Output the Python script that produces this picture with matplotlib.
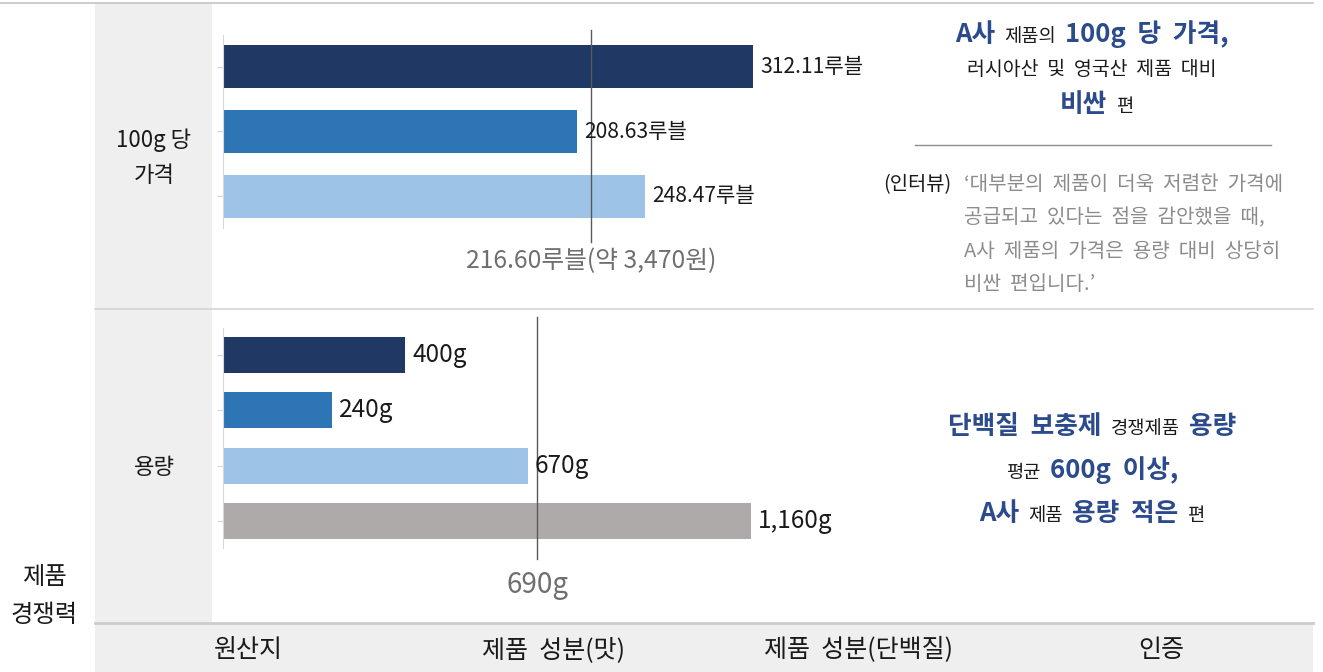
import matplotlib
matplotlib.use("Agg")
import matplotlib.pyplot as plt
from matplotlib.patches import Rectangle

plt.rcParams['font.family'] = ['Noto Sans CJK KR', 'DejaVu Sans']

# ---- data ----
price_vals = [312.11, 208.63, 248.47]      # 100g 당 가격 (루블)
price_avg = 216.60
price_avg_label = "216.60루블(약 3,470원)"
cap_vals = [400, 240, 670, 1160]           # 용량 (g)
cap_avg = 690
cap_avg_label = "690g"
row_labels = ["100g 당\n가격", "용량"]
col_labels = ["원산지", "제품  성분(맛)", "제품  성분(단백질)", "인증"]
side_label = "제품\n경쟁력"
bar_colors = ['#203864', '#2e75b6', '#9dc3e6', '#aeaaaa']

W, H = 1323, 672
fig = plt.figure(figsize=(W / 100, H / 100), dpi=100)

# background layer in pixel coords
bg = fig.add_axes([0, 0, 1, 1])
bg.set_xlim(0, W)
bg.set_ylim(H, 0)
bg.axis('off')
bg.add_patch(Rectangle((95, 3), 117, 620, fc='#efefef', ec='none'))
bg.add_patch(Rectangle((95, 623), 1218, 49, fc='#efefef', ec='none'))
bg.plot([0, 1313], [3, 3], color='#c4c4c4', lw=1.2)
bg.plot([95, 1313], [309, 309], color='#d4d4d4', lw=1.2)
bg.plot([95, 1313], [623, 623], color='#cccccc', lw=2)

bg.text(154, 158, row_labels[0], ha='center', va='center', fontsize=16,
        linespacing=1.65, color='#1a1a1a')
bg.text(154, 467, row_labels[1], ha='center', va='center', fontsize=16, color='#1a1a1a')
bg.text(44, 596, side_label, ha='center', va='center', fontsize=17.5,
        linespacing=1.6, color='#1a1a1a')
for x, s in zip([248, 553, 858, 1161], col_labels):
    bg.text(x, 650, s, ha='center', va='center', fontsize=18, color='#1a1a1a')


def px_rect(l, t, r, b):
    return [l / W, 1 - b / H, (r - l) / W, (b - t) / H]


def style_ax(ax):
    ax.set_facecolor('none')
    for k in ['top', 'right', 'bottom']:
        ax.spines[k].set_visible(False)
    ax.spines['left'].set_color('#d9d9d9')
    ax.tick_params(axis='y', length=4, color='#d9d9d9', labelleft=False)
    ax.set_xticks([])


# ---- top chart: price ----
ax1 = fig.add_axes(px_rect(223, 35, 223 + 330 * 1.698, 228))
style_ax(ax1)
y1 = list(range(len(price_vals)))
ax1.barh(y1, price_vals, height=0.66, color=bar_colors[:3])
ax1.set_xlim(0, 330)
ax1.set_ylim(2.485, -0.485)
ax1.set_yticks(y1)
for y, v in zip(y1, price_vals):
    ax1.annotate(f"{v:.2f}루블", (v, y), xytext=(5, 0), textcoords='offset points',
                 va='center', ha='left', fontsize=15.2, color='#1a1a1a')
ax1.plot([price_avg, price_avg], [-0.567, 2.70], color='#5a5a5a', lw=1, clip_on=False)
ax1.text(price_avg, 3.0, price_avg_label, ha='center', va='center', fontsize=17.8,
         color='#6f6f6f', clip_on=False)

# ---- bottom chart: capacity ----
ax2 = fig.add_axes(px_rect(223, 328, 223 + 1250 * 0.4552, 548))
style_ax(ax2)
y2 = list(range(len(cap_vals)))
ax2.barh(y2, cap_vals, height=0.65, color=bar_colors)
ax2.set_xlim(0, 1250)
ax2.set_ylim(3.49, -0.49)
ax2.set_yticks(y2)
for y, v in zip(y2, cap_vals):
    ax2.annotate(f"{v:,}g", (v, y), xytext=(5, 0), textcoords='offset points',
                 va='center', ha='left', fontsize=17.5, color='#1a1a1a')
ax2.plot([cap_avg, cap_avg], [-0.69, 3.69], color='#5a5a5a', lw=1, clip_on=False)
ax2.text(cap_avg, 4.16, cap_avg_label, ha='center', va='center', fontsize=20,
         color='#6f6f6f', clip_on=False)

# ---- right-hand comments ----
NAVY = '#2c4b8c'
STY = {
    'big': dict(fontsize=18.5, color=NAVY, fontweight='bold'),
    'small': dict(fontsize=13.5, color='#1a1a1a'),
    'mid': dict(fontsize=14, color='#1a1a1a'),
}
renderer = fig.canvas.get_renderer()


def rich(xc, yb, parts, gap=9):
    texts = [bg.text(0, yb, s, va='baseline', ha='left', **STY[k]) for s, k in parts]
    widths = [t.get_window_extent(renderer).width for t in texts]
    x = xc - (sum(widths) + gap * (len(texts) - 1)) / 2
    for t, w in zip(texts, widths):
        t.set_x(x)
        x += w + gap


rich(1092, 42, [("A사", 'big'), ("제품의", 'small'), ("100g  당  가격,", 'big')])
rich(1092, 75, [("러시아산  및  영국산  제품  대비", 'mid')])
rich(1097, 112, [("비싼", 'big'), ("편", 'small')])
bg.plot([915, 1271], [145, 145], color='#8c8c8c', lw=1)
bg.text(883, 190, "(인터뷰)", ha='left', va='baseline', fontsize=14.3, color='#1a1a1a')
quote = ["‘대부분의  제품이  더욱  저렴한  가격에",
         "공급되고  있다는  점을  감안했을  때,",
         "A사  제품의  가격은  용량  대비  상당히",
         "비싼  편입니다.’"]
for i, s in enumerate(quote):
    bg.text(964, 190 + i * 33.5, s, ha='left', va='baseline', fontsize=14.5, color='#8c8c8c')

rich(1092, 434, [("단백질  보충제", 'big'), ("경쟁제품", 'small'), ("용량", 'big')])
rich(1092, 478, [("평균", 'small'), ("600g  이상,", 'big')])
rich(1092, 521, [("A사", 'big'), ("제품", 'small'), ("용량  적은", 'big'), ("편", 'small')])

fig.savefig("out.png", dpi=100)
